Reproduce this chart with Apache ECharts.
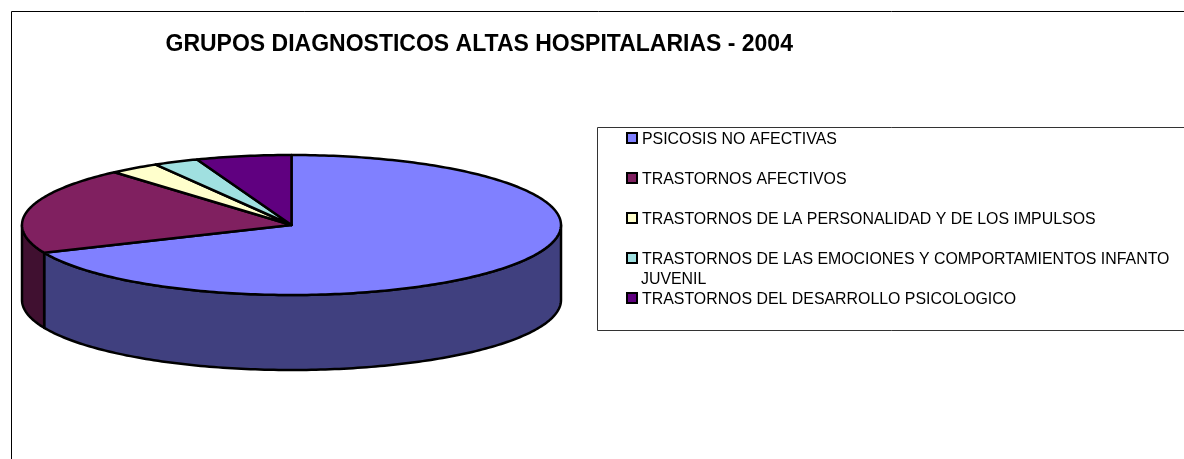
<!DOCTYPE html>
<html>
<head>
<meta charset="utf-8">
<style>
html, body { margin: 0; padding: 0; background: #fff; }
#report { width: 1184px; height: 459px; }
</style>
<script src="https://cdn.jsdelivr.net/npm/echarts@6/dist/echarts.min.js"></script>
</head>
<body>
<div id="report"></div>
<script>
var categories = [
    'PSICOSIS NO AFECTIVAS',
    'TRASTORNOS AFECTIVOS',
    'TRASTORNOS DE LA PERSONALIDAD Y DE LOS IMPULSOS',
    'TRASTORNOS DE LAS EMOCIONES Y COMPORTAMIENTOS INFANTO JUVENIL',
    'TRASTORNOS DEL DESARROLLO PSICOLOGICO'
];
var values = [68.5, 20.1, 3.0, 2.7, 5.7];
var topColors = ['#8080ff', '#802060', '#ffffcc', '#a0e0e0', '#600080'];
var sideColors = ['#40407f', '#401030', '#7f7f66', '#507070', '#300040'];

var chartTitle = 'GRUPOS DIAGNOSTICOS ALTAS HOSPITALARIAS - 2004';
var wrappedWord = 'JUVENIL';

var centerX = 291.5;
var centerY = 225;
var radius = 269.5;
var squash = 70 / 269.5;
var depth = 75;

var total = values.reduce(function(a, b) { return a + b; }, 0);

// the polar axes place the rim, then the circle is flattened into the 3d look
function rimPoint(api, angle, drop) {
    var p = api.coord([1, angle]);
    return [p[0], centerY + (p[1] - centerY) * squash + drop];
}

function arcPoints(api, from, to, drop) {
    var pts = [];
    var steps = Math.max(2, Math.ceil((to - from) / total * 360));
    for (var i = 0; i <= steps; i++) {
        pts.push(rimPoint(api, from + (to - from) * i / steps, drop));
    }
    return pts;
}

function renderSlice(params, api) {
    var start = api.value(1);
    var end = start + api.value(0);
    var children = [];
    var border = { stroke: '#000', lineWidth: 2.5, lineJoin: 'round' };

    // only the front half of the rim shows a wall
    var wallFrom = Math.max(start, total / 4);
    var wallTo = Math.min(end, total * 3 / 4);
    if (wallTo > wallFrom) {
        var wall = arcPoints(api, wallFrom, wallTo, 0)
            .concat(arcPoints(api, wallFrom, wallTo, depth).reverse());
        children.push({
            type: 'polygon',
            shape: { points: wall },
            style: Object.assign({ fill: sideColors[params.seriesIndex] }, border)
        });
    }

    var top = [[centerX, centerY]].concat(arcPoints(api, start, end, 0));
    children.push({
        type: 'polygon',
        shape: { points: top },
        style: Object.assign({ fill: topColors[params.seriesIndex] }, border)
    });
    return { type: 'group', children: children };
}

var running = 0;
var series = categories.map(function(name, i) {
    var item = {
        name: name,
        type: 'custom',
        coordinateSystem: 'polar',
        silent: true,
        renderItem: renderSlice,
        itemStyle: { color: topColors[i] },
        data: [[values[i], running]]
    };
    running += values[i];
    return item;
});

var myChart = echarts.init(document.getElementById('report'), null, { renderer: 'canvas' });
var option = {
    animation: false,
    backgroundColor: '#fff',
    title: {
        text: chartTitle,
        left: 165.5,
        top: 33,
        padding: 0,
        textStyle: { fontFamily: 'Liberation Sans', fontSize: 23, fontWeight: 'bold', color: '#000' }
    },
    polar: { center: [centerX, centerY], radius: radius },
    angleAxis: { type: 'value', min: 0, max: total, startAngle: 90, clockwise: true, show: false },
    radiusAxis: { type: 'value', min: 0, max: 1, show: false },
    legend: {
        orient: 'vertical',
        left: 626,
        top: 128,
        padding: 0,
        itemWidth: 10,
        itemHeight: 10,
        itemGap: 20,
        icon: 'rect',
        selectedMode: false,
        itemStyle: { borderColor: '#000', borderWidth: 2 },
        data: categories,
        formatter: function(name) {
            return '{t|' + name.replace(' ' + wrappedWord, '') + '}';
        },
        textStyle: {
            rich: {
                t: {
                    fontFamily: 'Liberation Sans',
                    fontSize: 15.9,
                    color: '#000',
                    lineHeight: 16,
                    padding: [4, 0, 0, 0]
                }
            }
        }
    },
    graphic: [
        {
            type: 'rect', z: -1,
            shape: { x: 11.5, y: 11.5, width: 1300, height: 600 },
            style: { fill: '#fff', stroke: '#000', lineWidth: 1 }
        },
        {
            type: 'rect', z: -1,
            shape: { x: 597.5, y: 127.5, width: 700, height: 203 },
            style: { fill: '#fff', stroke: '#333', lineWidth: 1 }
        },
        {
            type: 'text',
            x: 641,
            y: 271.5,
            style: { text: wrappedWord, font: '15.9px "Liberation Sans"', fill: '#000' }
        }
    ],
    series: series
};
myChart.setOption(option);
</script>
</body>
</html>
